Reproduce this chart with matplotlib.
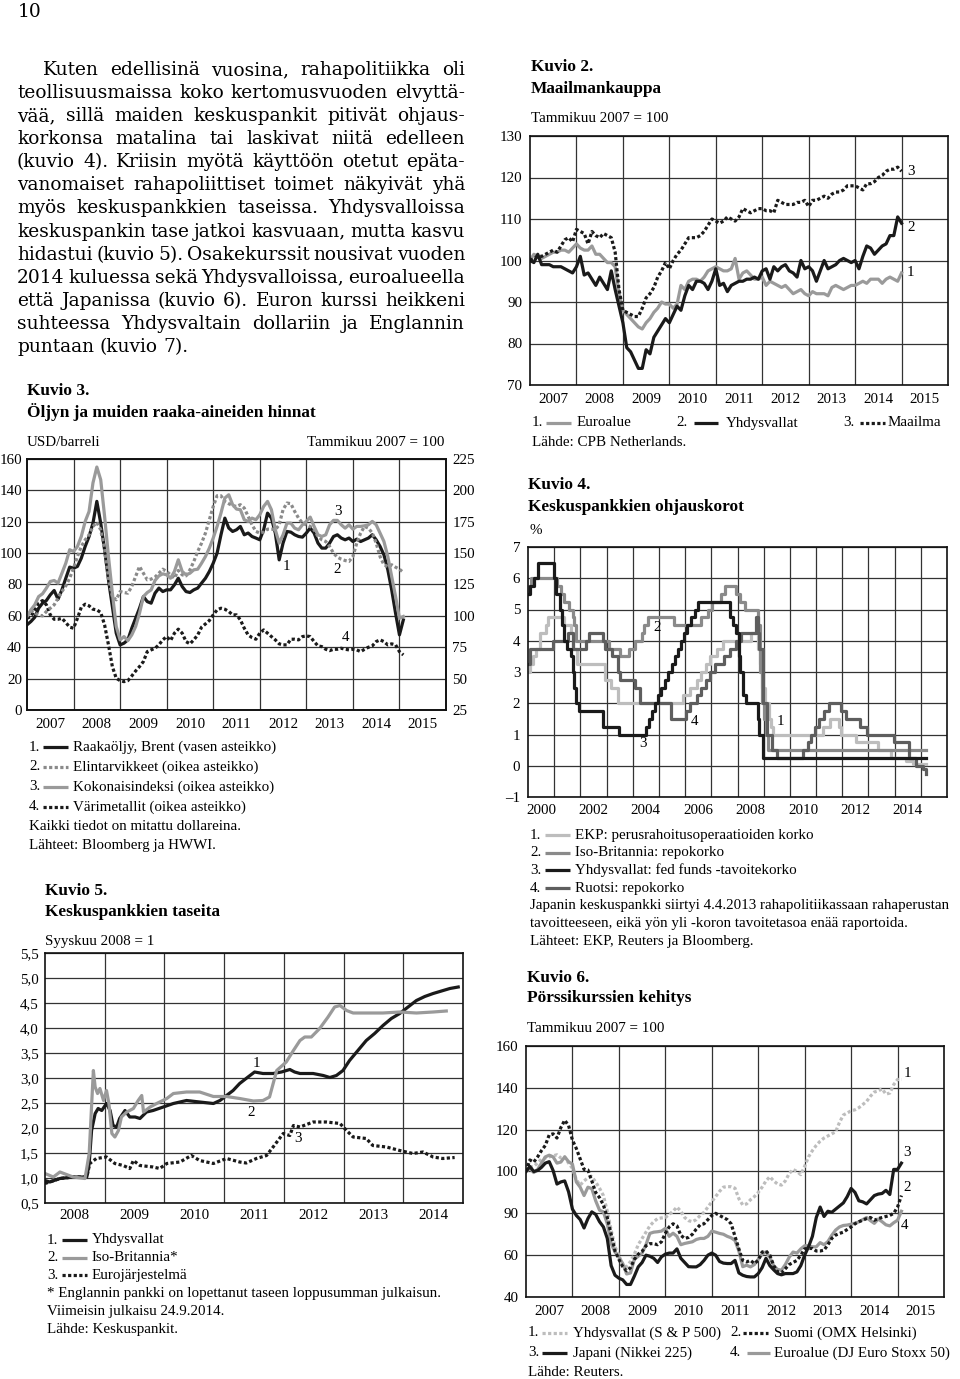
import numpy as np
import matplotlib
matplotlib.use("Agg")
import matplotlib.pyplot as plt
from matplotlib.lines import Line2D

plt.rcParams['font.family'] = ['Liberation Serif', 'DejaVu Serif']

W, H = 960, 1379
fig = plt.figure(figsize=(W / 100, H / 100), dpi=100)
fig.patch.set_facecolor('white')

def fx(x):
    return x / W

def fy(y):
    return 1 - y / H

def add_ax(l, t, r, b):
    return fig.add_axes([l / W, 1 - b / H, (r - l) / W, (b - t) / H])

# ---------------------------------------------------------------- DATA
para_lines = [
    "Kuten edellisinä vuosina, rahapolitiikka oli",
    "teollisuusmaissa koko kertomusvuoden elvyttä-",
    "vää, sillä maiden keskuspankit pitivät ohjaus-",
    "korkonsa matalina tai laskivat niitä edelleen",
    "(kuvio 4). Kriisin myötä käyttöön otetut epäta-",
    "vanomaiset rahapoliittiset toimet näkyivät yhä",
    "myös keskuspankkien taseissa. Yhdysvalloissa",
    "keskuspankin tase jatkoi kasvuaan, mutta kasvu",
    "hidastui (kuvio 5). Osakekurssit nousivat vuoden",
    "2014 kuluessa sekä Yhdysvalloissa, euroalueella",
    "että Japanissa (kuvio 6). Euron kurssi heikkeni",
    "suhteessa Yhdysvaltain dollariin ja Englannin",
    "puntaan (kuvio 7).",
]

# Kuvio 2 (monthly from Jan 2007)
k2_world = [100, 100.5, 101, 101, 101.5, 102, 102.5, 102, 103.5, 105, 105.5, 104.5,
            107.5, 107, 106.5, 104, 107, 106, 105.5, 106.5, 106, 105.5, 102, 93,
            88, 87.5, 87, 86.5, 86.5, 88.5, 91, 92, 93.5, 96, 97.5, 99.5,
            98, 100, 101.5, 102.5, 104, 105.5, 105.5, 105.5, 106, 107, 108.5, 110,
            109.5, 109, 109.5, 110.5, 110, 109.5, 110.5, 112.5, 112, 111.5, 112, 112.5,
            112.5, 112, 112, 111.5, 114.5, 114, 113.5, 113.5, 113.5, 114, 114, 114.5,
            113, 114.5, 114.5, 115, 115.5, 115, 116, 116.5, 116.5, 117, 118, 118,
            118, 117.5, 117, 118.5, 118.5, 119, 120, 120.5, 121.5, 122, 122, 122.5,
            121.5]
k2_us = [100, 99.5, 101.5, 99, 99, 99, 98.5, 98.5, 98.5, 98, 97.5, 97,
         98.5, 101, 96.5, 97, 95.5, 94, 96, 94.5, 93, 97.5, 93, 89,
         85, 79, 78, 76, 74, 74, 78.5, 77.5, 81.5, 83, 84.5, 86,
         85, 87, 89, 88, 91.5, 94, 93, 95, 95, 94.5, 93, 95,
         98, 94, 94.5, 92.5, 94, 94.5, 95, 95, 95.5, 95.5, 96, 95.5,
         97.5, 98, 95.5, 98.5, 97.5, 98.5, 99, 97.5, 97, 96, 100, 98,
         98.5, 97.5, 95, 97.5, 100, 98, 98.5, 99, 100, 100.5, 100, 99.5,
         100, 98, 101, 103.5, 103, 101.5, 102.5, 103.5, 104, 106, 106, 110.5,
         109]
k2_euro = [100, 101.5, 101, 100.5, 101, 101.5, 102, 102, 102.5, 102.5, 102, 103,
           104, 103, 102.5, 102.5, 103.5, 101.5, 101.5, 100.5, 99.5, 99.5, 98.5, 92,
           88, 87, 86, 85, 84, 83.5, 85, 86, 87.5, 88.5, 90, 89.5,
           89.5, 88.5, 89.5, 94, 93, 95, 95.5, 95.5, 95, 96, 97.5, 98,
           98.5, 98, 97.5, 97.5, 98, 100.5, 95.5, 97, 97.5, 96.5, 95.5, 95.5,
           96, 94, 95, 94.5, 94, 93.5, 94, 93, 92, 92.5, 93, 92,
           91.5, 92.5, 92, 92, 92, 91.5, 93.5, 94, 93.5, 93, 93.5, 94,
           94, 94.5, 95, 94.5, 95.5, 95.5, 95.5, 94.5, 95.5, 96, 95.5, 95,
           97]

# Kuvio 3 (monthly from Jan 2007)
k3_brent = [54.3, 56.4, 59.1, 64.9, 68.1, 69.8, 73.4, 76.2, 70.6, 76.6, 84, 91.1,
            90.4, 91.5, 96.8, 104.3, 110.6, 119.1, 133, 119.1, 102.1, 83, 66, 49,
            41.5, 42.6, 44.7, 52.1, 58.5, 64.9, 72.3, 69.1, 68.1, 74.5, 77.7, 75.5,
            76.6, 76.6, 79.8, 84, 78.7, 75.5, 74.9, 76.6, 77.7, 80.9, 84, 88.3,
            93.6, 100, 111.7, 122.3, 116, 113.8, 114.9, 117, 111.7, 112.8, 110.6, 109.6,
            108.5, 114.9, 125.5, 122.3, 112.8, 95.7, 106.4, 113.8, 113.4, 111.7, 110.6, 110.2,
            112.8, 116, 112.8, 106.4, 103.2, 103.2, 106.4, 110.6, 111.7, 109.6, 108.5, 109.6,
            107.4, 108.9, 107.4, 108.5, 109.6, 111.7, 108.5, 104.3, 98.9, 89.4, 76.6, 61.7,
            47.9, 57.4]
k3_food = [100.8, 104.3, 102.1, 100.8, 100, 103.5, 106.1, 108.8, 114.1, 119.4, 123.9, 130,
           138, 147.3, 155.3, 160.6, 164.6, 171.3, 174.5, 168.6, 152.7, 130, 115.4, 112.8,
           119.4, 118.6, 118.1, 123.4, 131.4, 139.4, 134, 128.7, 129.3, 130.9, 134, 137.2,
           135.4, 132.7, 130, 136.2, 132.7, 131.9, 136.7, 143.4, 151.3, 158, 166, 176.6,
           187.2, 195.7, 195.7, 191.2, 189.4, 187.8, 187.2, 188.6, 185.9, 179.3, 172.6, 167.3,
           166, 166.8, 169.1, 169.1, 168.6, 172.6, 184.6, 189.9, 189.4, 183.2, 177.9, 173.9,
           172.6, 171.3, 168.6, 163.3, 160.6, 159.3, 155.3, 150, 146.8, 145.2, 144.1, 143.4,
           147.3, 158, 166, 171.3, 169.9, 166, 158, 147.3, 140.7, 139.4, 140.7, 138.8,
           137.2, 134.6]
k3_total = [99.5, 104.8, 108.8, 115.4, 117.6, 122.1, 127.4, 128.2, 126.1, 134, 142, 152.7,
            151.3, 155.3, 163.3, 175.3, 183.2, 205.9, 218.6, 208.5, 179.3, 147.3, 118.1, 91.5,
            80.9, 83.5, 80.3, 84.8, 91.5, 102.1, 115.4, 118.6, 120.7, 128.2, 131.9, 133.5,
            132.7, 130, 135.4, 144.7, 135.4, 132.7, 134, 136.7, 137.2, 142, 147.3, 154,
            162, 171.3, 181.9, 193.9, 196.5, 188.6, 185.1, 184.6, 176.6, 175.3, 177.9, 176.6,
            180.6, 187.2, 191.2, 184.6, 168.6, 158, 164.6, 173.9, 173.9, 169.9, 168.6, 172.6,
            175.3, 178.7, 171.3, 164.6, 163.3, 164.6, 172.6, 176.1, 176.1, 172.6, 169.9, 172.6,
            169.1, 171.3, 171.3, 171.8, 172.6, 175.3, 172.6, 166, 159.3, 147.3, 131.4, 115.4,
            98.1, 99.5]
k3_metals = [98.1, 99.5, 104.8, 110.1, 112.2, 108.8, 100.8, 97.3, 97.3, 98.1, 94.7, 91,
             90.2, 98.1, 106.9, 109.3, 108, 105.3, 104.8, 102.7, 92.8, 76.9, 59.6, 50.3,
             48.4, 47.6, 48.4, 52.1, 56.1, 59.6, 63.6, 71.5, 72.9, 74.2, 76.9, 80.9,
             83.5, 80.3, 86.2, 89.4, 86.2, 79.5, 77.7, 80.9, 84.8, 91, 93.6, 96.3,
             100.8, 104.8, 106.1, 105.3, 103.5, 100.8, 100.8, 96.8, 90.2, 84.8, 82.7, 81.4,
             86.2, 88.8, 86.2, 83.5, 80.9, 77.7, 76.9, 76.9, 81.4, 81.4, 80.9, 83.5,
             84, 83.5, 79.5, 76.1, 75.5, 73.4, 72.3, 73.4, 73.4, 74.2, 73.4, 72.9,
             73.4, 72.9, 71.5, 73.4, 75, 76.1, 79.5, 80.9, 79.5, 76.9, 77.7, 76.9,
             71.5, 68.9]

# Kuvio 4 (step changes: decimal year, rate)
k4_ecb_t = [2000.0, 2000.09, 2000.21, 2000.32, 2000.44, 2000.68, 2000.76, 2001.36, 2001.66,
            2001.71, 2001.86, 2002.93, 2003.18, 2003.43, 2005.93, 2006.18, 2006.45, 2006.60,
            2006.78, 2006.95, 2007.20, 2007.45, 2008.52, 2008.79, 2008.87, 2008.94, 2009.05,
            2009.19, 2009.27, 2009.36, 2011.28, 2011.53, 2011.86, 2011.95, 2012.52, 2013.35,
            2013.87, 2014.44, 2014.69, 2015.2]
k4_ecb_v = [3.0, 3.25, 3.5, 3.75, 4.25, 4.5, 4.75, 4.5, 4.25,
            3.75, 3.25, 2.75, 2.5, 2.0, 2.25, 2.5, 2.75, 3.0,
            3.25, 3.5, 3.75, 4.0, 4.25, 3.75, 3.25, 2.5, 2.0,
            1.5, 1.25, 1.0, 1.25, 1.5, 1.25, 1.0, 0.75, 0.5,
            0.25, 0.15, 0.05, 0.05]
k4_uk_t = [2000.0, 2000.04, 2000.11, 2001.10, 2001.26, 2001.36, 2001.58, 2001.71, 2001.76,
           2001.85, 2003.10, 2003.52, 2003.85, 2004.10, 2004.35, 2004.44, 2004.59, 2005.59,
           2006.59, 2006.86, 2007.03, 2007.36, 2007.51, 2007.93, 2008.10, 2008.27, 2008.77,
           2008.85, 2008.93, 2009.02, 2009.10, 2009.17, 2015.2]
k4_uk_v = [5.5, 5.75, 6.0, 5.75, 5.5, 5.25, 5.0, 4.75, 4.5,
           4.0, 3.75, 3.5, 3.75, 4.0, 4.25, 4.5, 4.75, 4.5,
           4.75, 5.0, 5.25, 5.5, 5.75, 5.5, 5.25, 5.0, 4.5,
           3.0, 2.0, 1.5, 1.0, 0.5, 0.5]
k4_us_t = [2000.0, 2000.09, 2000.22, 2000.37, 2001.01, 2001.08, 2001.22, 2001.30, 2001.37,
           2001.49, 2001.64, 2001.71, 2001.75, 2001.85, 2001.94, 2002.85, 2003.48, 2004.49,
           2004.61, 2004.72, 2004.86, 2004.95, 2005.09, 2005.22, 2005.34, 2005.49, 2005.61,
           2005.72, 2005.83, 2005.95, 2006.08, 2006.24, 2006.36, 2006.49, 2007.71, 2007.83,
           2007.94, 2008.06, 2008.08, 2008.21, 2008.33, 2008.77, 2008.83, 2008.96, 2015.2]
k4_us_v = [5.5, 5.75, 6.0, 6.5, 6.0, 5.5, 5.0, 4.5, 4.0,
           3.75, 3.5, 3.0, 2.5, 2.0, 1.75, 1.25, 1.0, 1.25,
           1.5, 1.75, 2.0, 2.25, 2.5, 2.75, 3.0, 3.25, 3.5,
           3.75, 4.0, 4.25, 4.5, 4.75, 5.0, 5.25, 4.75, 4.5,
           4.25, 3.5, 3.0, 2.25, 2.0, 1.5, 1.0, 0.25, 0.25]
k4_se_t = [2000.0, 2000.09, 2000.94, 2001.53, 2001.71, 2002.22, 2002.32, 2002.87, 2002.94,
           2003.22, 2003.43, 2003.52, 2004.10, 2004.27, 2005.47, 2006.05, 2006.17, 2006.47,
           2006.62, 2006.80, 2006.96, 2007.13, 2007.48, 2007.71, 2007.96, 2008.13, 2008.71,
           2008.77, 2008.83, 2008.96, 2009.11, 2009.30, 2009.52, 2010.52, 2010.68, 2010.81,
           2010.96, 2011.12, 2011.30, 2011.51, 2011.96, 2012.13, 2012.68, 2012.96, 2013.96,
           2014.53, 2014.82, 2015.10, 2015.20]
k4_se_v = [3.25, 3.75, 4.0, 4.25, 3.75, 4.0, 4.25, 4.0, 3.75,
           3.5, 3.0, 2.75, 2.5, 2.0, 1.5, 1.75, 2.0, 2.25,
           2.5, 2.75, 3.0, 3.25, 3.5, 3.75, 4.0, 4.25, 4.75,
           4.25, 3.75, 2.0, 1.0, 0.5, 0.25, 0.5, 0.75, 1.0,
           1.25, 1.5, 1.75, 2.0, 1.75, 1.5, 1.25, 1.0, 0.75,
           0.25, 0.0, -0.1, -0.25]

# Kuvio 5 (decimal year, index)
k5_us_t = [2008.00, 2008.08, 2008.25, 2008.47, 2008.70, 2008.74, 2008.78, 2008.84, 2008.89, 2008.95,
           2009.03, 2009.09, 2009.14, 2009.20, 2009.25, 2009.34, 2009.42, 2009.51, 2009.59, 2009.70,
           2009.81, 2009.98, 2010.15, 2010.37, 2010.59, 2010.82, 2010.93, 2011.04, 2011.15, 2011.26,
           2011.40, 2011.51, 2011.65, 2011.82, 2011.96, 2012.10, 2012.18, 2012.27, 2012.49, 2012.66,
           2012.77, 2012.88, 2012.99, 2013.10, 2013.24, 2013.38, 2013.52, 2013.66, 2013.80, 2013.94,
           2014.08, 2014.22, 2014.36, 2014.50, 2014.64, 2014.78, 2014.92]
k5_us_v = [0.95, 0.92, 0.99, 1.02, 1.02, 1.29, 1.95, 2.29, 2.39, 2.35,
           2.49, 2.35, 2.05, 2.02, 2.19, 2.35, 2.22, 2.22, 2.19, 2.32,
           2.35, 2.42, 2.49, 2.55, 2.52, 2.49, 2.55, 2.65, 2.75, 2.89,
           3.02, 3.12, 3.09, 3.09, 3.12, 3.17, 3.12, 3.09, 3.09, 3.05,
           3.01, 3.05, 3.15, 3.35, 3.55, 3.75, 3.89, 4.05, 4.19, 4.29,
           4.42, 4.55, 4.63, 4.69, 4.74, 4.79, 4.82]
k5_uk_t = [2008.00, 2008.14, 2008.25, 2008.47, 2008.67, 2008.74, 2008.81, 2008.84, 2008.88, 2008.92,
           2008.98, 2009.03, 2009.07, 2009.12, 2009.17, 2009.23, 2009.28, 2009.37, 2009.48, 2009.56,
           2009.62, 2009.65, 2009.76, 2009.87, 2010.04, 2010.15, 2010.37, 2010.59, 2010.82, 2011.04,
           2011.26, 2011.49, 2011.65, 2011.76, 2011.88, 2012.04, 2012.16, 2012.27, 2012.35, 2012.46,
           2012.60, 2012.74, 2012.85, 2012.94, 2013.05, 2013.16, 2013.38, 2013.66, 2013.94, 2014.22,
           2014.50, 2014.72]
k5_uk_v = [1.09, 1.02, 1.12, 1.02, 0.99, 1.49, 3.15, 2.82, 2.69, 2.79,
           2.55, 2.75, 2.49, 1.89, 1.82, 1.95, 2.22, 2.32, 2.39, 2.55,
           2.65, 2.32, 2.42, 2.49, 2.59, 2.69, 2.72, 2.72, 2.63, 2.63,
           2.59, 2.54, 2.55, 2.62, 3.15, 3.32, 3.55, 3.75, 3.82, 3.82,
           3.99, 4.22, 4.42, 4.45, 4.35, 4.30, 4.30, 4.30, 4.32, 4.30,
           4.32, 4.34]
k5_eu_t = [2008.00, 2008.25, 2008.47, 2008.70, 2008.75, 2008.86, 2009.03, 2009.17, 2009.31, 2009.42,
           2009.48, 2009.59, 2009.81, 2009.92, 2010.04, 2010.26, 2010.45, 2010.59, 2010.82, 2011.04,
           2011.26, 2011.37, 2011.54, 2011.71, 2011.82, 2011.99, 2012.10, 2012.16, 2012.27, 2012.49,
           2012.71, 2012.94, 2013.05, 2013.16, 2013.38, 2013.49, 2013.72, 2013.94, 2014.16, 2014.33,
           2014.50, 2014.66, 2014.86]
k5_eu_v = [0.89, 0.99, 1.02, 1.02, 1.29, 1.39, 1.42, 1.29, 1.25, 1.19,
           1.35, 1.25, 1.22, 1.19, 1.29, 1.32, 1.45, 1.35, 1.29, 1.39,
           1.32, 1.30, 1.39, 1.45, 1.62, 1.89, 1.85, 2.05, 2.02, 2.12,
           2.12, 2.09, 1.95, 1.82, 1.79, 1.65, 1.62, 1.55, 1.49, 1.52,
           1.42, 1.39, 1.41]

# Kuvio 6 (monthly from Jan 2007)
k6_sp = [100, 102, 102.5, 104, 106, 106.5, 107, 107.5, 108, 106.5, 107, 104,
         101.5, 96, 93.5, 95.5, 97, 97.5, 95, 92, 88.5, 81, 72, 64,
         60, 55, 54.5, 57, 60.5, 65, 68, 71, 74, 76, 77.5, 77.8,
         78, 79.5, 81, 83, 81, 78, 76.5, 76, 77, 79, 80.5, 83,
         85.5, 88, 90.5, 92.5, 92.8, 92.7, 92, 87, 84, 84.5, 86.5, 88,
         90, 92.5, 95.5, 97.5, 95.5, 94, 93.5, 95.5, 99, 101, 100, 98.5,
         102.5, 107, 110, 112.5, 114.5, 116, 117, 118, 119, 123.5, 127, 128,
         129, 129.5, 130.5, 132, 133.5, 136, 138, 138.5, 139.5, 137, 137.5, 141.5,
         144, 144]
k6_omx = [100, 105.5, 104.5, 107, 110, 112.5, 117.5, 118, 116, 121, 124.5, 122,
          115, 111, 106, 101, 100.7, 95.5, 90, 87.5, 84, 78, 70, 62,
          58, 54.5, 52.5, 54, 58, 60.5, 61.8, 64.5, 65.5, 65.5, 65, 66.4,
          70.5, 73.5, 75, 74, 69.5, 68, 68.5, 70, 72.5, 74.5, 75, 77,
          79, 80, 79, 78, 77, 75, 69, 63, 57.5, 56.8, 57.5, 56,
          57.5, 61.5, 62, 60, 55, 52, 51.5, 53.5, 55.5, 56.5, 57.5, 60,
          63, 63.2, 63.2, 62, 62, 62.4, 65, 68, 69.6, 70.4, 71, 72.3,
          73.5, 75, 76, 76.7, 77.5, 78, 76.7, 77.5, 78, 78.5, 79, 80,
          83, 88.5]
k6_nikkei = [100, 102.4, 100, 100.5, 102, 104, 104.7, 100.5, 94, 95, 95.5, 90.3,
             82, 79, 77, 73, 77.5, 80.7, 79.5, 76, 73.5, 68, 55, 50.4,
             49, 48.2, 46, 46, 50, 54.4, 56.5, 60, 59.5, 58.5, 56.5, 59.2,
             60.5, 61, 61, 63, 58.5, 56.5, 54.5, 54.4, 54.4, 55.5, 57.5, 60,
             61, 60, 57, 56.2, 56, 56, 57.5, 51.5, 50.4, 49.8, 49.6, 49.6,
             51.2, 54, 58.5, 55, 53, 51.2, 50.6, 51.2, 51.2, 51.2, 52, 55,
             60, 64, 69, 78, 83, 78.5, 81, 80.5, 82, 83.5, 85, 88,
             91.9, 90, 86, 85.5, 84.5, 86.5, 88.5, 89.2, 89.5, 91, 89, 101,
             101, 104]
k6_stoxx = [100, 101.5, 99.5, 101, 104, 107, 107.8, 107, 104, 104.5, 107, 104.7,
            103.5, 95, 92.5, 88.5, 92.5, 91.8, 86, 81.5, 80.7, 75, 65.5, 61.5,
            59, 56, 51, 51.5, 58, 59.5, 61, 65, 70.4, 71, 71.2, 71.5,
            72.8, 69, 70.5, 69, 65, 65.6, 66, 66.4, 67.5, 68, 68, 69,
            71.5, 71, 70.4, 70, 69, 68.3, 67, 62, 54.5, 55.2, 54.4, 55.5,
            58, 60.5, 61.6, 59, 55, 53.2, 52.8, 55.5, 59, 61.5, 61, 63,
            64.5, 64.5, 64, 64, 66, 65, 66.5, 69.5, 72, 73.5, 74.2, 74.4,
            74.8, 75.3, 75.9, 77, 78, 76.5, 75.2, 77.3, 76, 74.5, 74, 75.5,
            76.7, 81]

k2_years = list(range(2007, 2016))
k3_years = list(range(2007, 2016))
k4_years = list(range(2000, 2015, 2))
k5_years = list(range(2008, 2015))
k6_years = list(range(2007, 2016))
k2_yticks = [70, 80, 90, 100, 110, 120, 130]
k3_left_ticks = [0, 20, 40, 60, 80, 100, 120, 140, 160]
k3_right_ticks = [25, 50, 75, 100, 125, 150, 175, 200, 225]
k4_yticks = [-1, 0, 1, 2, 3, 4, 5, 6, 7]
k4_ylabels = ['\u20131', '0', '1', '2', '3', '4', '5', '6', '7']
k5_yticks = [0.5, 1.0, 1.5, 2.0, 2.5, 3.0, 3.5, 4.0, 4.5, 5.0, 5.5]
k5_ylabels = ['0,5', '1,0', '1,5', '2,0', '2,5', '3,0', '3,5', '4,0', '4,5', '5,0', '5,5']
k6_yticks = [40, 60, 80, 100, 120, 140, 160]
k6_ylabels = ['40', '60', '90', '100', '120', '140', '160']

# ---------------------------------------------------------------- STYLE
BLACK = '#1a1a1a'
GRAY = '#9a9a9a'
LGRAY = '#bdbdbd'
MGRAY = '#8a8a8a'
DGRAY = '#5e5e5e'
LW = 2.3
DOT = (0, (1.0, 0.75))
TS = 10.8   # tick / legend size
TT = 12.4   # title size

def style_axes(ax, xlim, ylim, yticks, ylabels, xgrid, xlabpos, xlabels, ypad=5.5, xpad=6):
    ax.set_xlim(*xlim)
    ax.set_ylim(*ylim)
    ax.set_yticks(yticks)
    ax.set_yticklabels(ylabels, fontsize=TS)
    ax.set_xticks(xgrid, minor=True)
    ax.set_xticks(xlabpos)
    ax.set_xticklabels(xlabels, fontsize=TS)
    ax.set_xticklabels([], minor=True)
    ax.grid(which='minor', axis='x', color='#333333', lw=0.9)
    ax.grid(which='major', axis='y', color='#333333', lw=0.9)
    ax.grid(which='major', axis='x', visible=False)
    ax.tick_params(which='both', length=0)
    ax.tick_params(axis='y', pad=ypad)
    ax.tick_params(axis='x', pad=xpad)
    ax.set_axisbelow(True)
    for s in ax.spines.values():
        s.set_linewidth(1.2)
        s.set_color('#111111')

def ftext(x, y, s, size=TS, weight='normal', ha='left', va='center', family=None):
    kw = {}
    if family is not None:
        kw['family'] = family
    fig.text(fx(x), fy(y), s, fontsize=size, fontweight=weight, ha=ha, va=va, **kw)

def legline(x1, x2, y, color, ls='-', lw=LW):
    fig.add_artist(Line2D([fx(x1), fx(x2)], [fy(y), fy(y)], transform=fig.transFigure,
                          color=color, lw=lw, linestyle=ls, solid_capstyle='butt',
                          dash_capstyle='butt'))

# ---------------------------------------------------------------- PARAGRAPH
renderer = fig.canvas.get_renderer()
PFAM = 'DejaVu Serif'

def twidth(s, size):
    t = fig.text(0, 0, s, fontsize=size, family=PFAM)
    w = t.get_window_extent(renderer).width
    t.remove()
    return w

psize = 10 * 173 / twidth(para_lines[-1], 10)
space_w = twidth('a a', psize) - twidth('aa', psize)
for i, line in enumerate(para_lines):
    words = line.split(' ')
    widths = [twidth(w_, psize) for w_ in words]
    x0 = 43 if i == 0 else 17
    if i == len(para_lines) - 1:
        gap = space_w
    else:
        gap = max((465 - x0 - sum(widths)) / (len(words) - 1), 1.5)
    x = x0
    yb = 75 + 23.08 * i
    for w_, wd in zip(words, widths):
        fig.text(fx(x), fy(yb), w_, fontsize=psize, family=PFAM, ha='left', va='baseline')
        x += wd + gap

ftext(18, 12, "10", size=psize, family=PFAM)

# ---------------------------------------------------------------- KUVIO 2
ax2 = add_ax(530, 136, 948, 385)
t2 = 2007 + np.arange(len(k2_world)) / 12
ax2.plot(t2, k2_euro, color=GRAY, lw=LW)
ax2.plot(t2, k2_us, color=BLACK, lw=LW)
ax2.plot(t2, k2_world, color=BLACK, lw=LW, linestyle=DOT)
style_axes(ax2, (2007, 2016), (70, 130), k2_yticks, [str(v) for v in k2_yticks],
           list(range(2008, 2016)), [y + 0.5 for y in k2_years], [str(y) for y in k2_years])
for s, (xx, yy) in zip(['3', '2', '1'], [(2015.2, 121.5), (2015.2, 108), (2015.2, 97)]):
    ax2.text(xx, yy, s, fontsize=TS, ha='center', va='center')
ftext(531, 67, "Kuvio 2.", size=TT, weight='bold')
ftext(531, 89, "Maailmankauppa", size=TT, weight='bold')
ftext(531, 118, "Tammikuu 2007 = 100")
ftext(532, 423, "1.")
legline(546, 571, 423, GRAY)
ftext(577, 423, "Euroalue")
ftext(676, 423, "2.")
legline(694, 718, 423, BLACK)
ftext(726, 423, "Yhdysvallat")
ftext(843, 423, "3.")
legline(860, 885, 423, BLACK, ls=DOT)
ftext(888, 423, "Maailma")
ftext(532, 443, "Lähde: CPB Netherlands.")

# ---------------------------------------------------------------- KUVIO 3
ax3 = add_ax(27, 459, 446, 710)
t3 = 2007 + np.arange(len(k3_brent)) / 12
style_axes(ax3, (2007, 2016), (0, 160), k3_left_ticks, [str(v) for v in k3_left_ticks],
           list(range(2008, 2016)), [y + 0.5 for y in k3_years], [str(y) for y in k3_years],
           ypad=3.5)
ax3.plot(t3, k3_brent, color=BLACK, lw=LW)
ax3r = ax3.twinx()
ax3r.set_ylim(25, 225)
ax3r.set_yticks(k3_right_ticks)
ax3r.set_yticklabels([str(v) for v in k3_right_ticks], fontsize=TS)
ax3r.tick_params(length=0, pad=4.5)
for s in ax3r.spines.values():
    s.set_linewidth(1.2)
    s.set_color('#111111')
ax3r.plot(t3, k3_metals, color=BLACK, lw=LW, linestyle=DOT)
ax3r.plot(t3, k3_food, color=MGRAY, lw=LW, linestyle=DOT)
ax3r.plot(t3, k3_total, color=GRAY, lw=LW)
for s, (xx, yy) in zip(['1', '2', '3', '4'],
                       [(2012.57, 91.5), (2013.67, 89.8), (2013.67, 126.6), (2013.84, 46.4)]):
    ax3.text(xx, yy, s, fontsize=TS, ha='center', va='center', zorder=10)
ftext(27, 391, "Kuvio 3.", size=TT, weight='bold')
ftext(27, 412, "Öljyn ja muiden raaka-aineiden hinnat", size=TT, weight='bold')
ftext(27, 442, "USD/barreli")
ftext(444, 442, "Tammikuu 2007 = 100", ha='right')
leg3 = [("1.", BLACK, '-', "Raakaöljy, Brent (vasen asteikko)"),
        ("2.", MGRAY, DOT, "Elintarvikkeet (oikea asteikko)"),
        ("3.", GRAY, '-', "Kokonaisindeksi (oikea asteikko)"),
        ("4.", BLACK, DOT, "Värimetallit (oikea asteikko)")]
for i, (n, c, ls, lab) in enumerate(leg3):
    yy = 747 + 20 * i
    ftext(29, yy, n)
    legline(43, 68, yy, c, ls=ls)
    ftext(73, yy, lab)
ftext(29, 826, "Kaikki tiedot on mitattu dollareina.")
ftext(29, 846, "Lähteet: Bloomberg ja HWWI.")

# ---------------------------------------------------------------- KUVIO 4
ax4 = add_ax(528, 547, 947, 797)
ax4.step(k4_ecb_t, k4_ecb_v, where='post', color=LGRAY, lw=LW)
ax4.step(k4_uk_t, k4_uk_v, where='post', color=MGRAY, lw=LW)
ax4.step(k4_se_t, k4_se_v, where='post', color=DGRAY, lw=LW)
ax4.step(k4_us_t, k4_us_v, where='post', color=BLACK, lw=LW)
style_axes(ax4, (2000, 2016), (-1, 7), k4_yticks, k4_ylabels,
           list(range(2001, 2016)), [y + 0.5 for y in k4_years], [str(y) for y in k4_years],
           xpad=5)
for s, (xx, yy) in zip(['1', '2', '3', '4'],
                       [(2009.63, 1.41), (2004.93, 4.41), (2004.4, 0.72), (2006.35, 1.41)]):
    ax4.text(xx, yy, s, fontsize=TS, ha='center', va='center')
ftext(528, 485, "Kuvio 4.", size=TT, weight='bold')
ftext(528, 507, "Keskuspankkien ohjauskorot", size=TT, weight='bold')
ftext(530, 531, "%")
leg4 = [("1.", LGRAY, "EKP: perusrahoitusoperaatioiden korko"),
        ("2.", MGRAY, "Iso-Britannia: repokorko"),
        ("3.", BLACK, "Yhdysvallat: fed funds -tavoitekorko"),
        ("4.", DGRAY, "Ruotsi: repokorko")]
for i, (n, c, lab) in enumerate(leg4):
    yy = 835 + 17.7 * i
    ftext(530, yy, n)
    legline(545, 570, yy, c)
    ftext(575, yy, lab)
ftext(530, 906, "Japanin keskuspankki siirtyi 4.4.2013 rahapolitiikassaan rahaperustan")
ftext(530, 923, "tavoitteeseen, eikä yön yli -koron tavoitetasoa enää raportoida.")
ftext(530, 941, "Lähteet: EKP, Reuters ja Bloomberg.")

# ---------------------------------------------------------------- KUVIO 5
ax5 = add_ax(45, 953, 463, 1203)
ax5.plot(k5_eu_t, k5_eu_v, color=BLACK, lw=LW, linestyle=DOT)
ax5.plot(k5_us_t, k5_us_v, color=BLACK, lw=LW)
ax5.plot(k5_uk_t, k5_uk_v, color=GRAY, lw=LW)
style_axes(ax5, (2008, 2015), (0.5, 5.5), k5_yticks, k5_ylabels,
           list(range(2009, 2015)), [y + 0.5 for y in k5_years], [str(y) for y in k5_years],
           xpad=4.5, ypad=4.5)
for s, (xx, yy) in zip(['1', '2', '3'], [(2011.54, 3.29), (2011.46, 2.32), (2012.24, 1.79)]):
    ax5.text(xx, yy, s, fontsize=TS, ha='center', va='center')
ftext(45, 891, "Kuvio 5.", size=TT, weight='bold')
ftext(45, 912, "Keskuspankkien taseita", size=TT, weight='bold')
ftext(45, 942, "Syyskuu 2008 = 1")
leg5 = [("1.", BLACK, '-', "Yhdysvallat"),
        ("2.", GRAY, '-', "Iso-Britannia*"),
        ("3.", BLACK, DOT, "Eurojärjestelmä")]
for i, (n, c, ls, lab) in enumerate(leg5):
    yy = 1240 + 17.7 * i
    ftext(47, yy, n)
    legline(62, 87, yy, c, ls=ls)
    ftext(92, yy, lab)
ftext(47, 1293, "* Englannin pankki on lopettanut taseen loppusumman julkaisun.")
ftext(47, 1311, "Viimeisin julkaisu 24.9.2014.")
ftext(47, 1329, "Lähde: Keskuspankit.")

# ---------------------------------------------------------------- KUVIO 6
ax6 = add_ax(526, 1046, 944, 1297)
t6 = 2007 + np.arange(len(k6_sp)) / 12
ax6.plot(t6, k6_sp, color=LGRAY, lw=LW, linestyle=DOT)
ax6.plot(t6, k6_stoxx, color=GRAY, lw=LW)
ax6.plot(t6, k6_nikkei, color=BLACK, lw=LW)
ax6.plot(t6, k6_omx, color=BLACK, lw=LW, linestyle=DOT)
style_axes(ax6, (2007, 2016), (40, 160), k6_yticks, k6_ylabels,
           list(range(2008, 2016)), [y + 0.5 for y in k6_years], [str(y) for y in k6_years])
for s, (xx, yy) in zip(['1', '3', '2', '4'],
                       [(2015.21, 146.9), (2015.2, 109.1), (2015.2, 92.2), (2015.15, 74.4)]):
    ax6.text(xx, yy, s, fontsize=TS, ha='center', va='center')
ftext(527, 978, "Kuvio 6.", size=TT, weight='bold')
ftext(527, 998, "Pörssikurssien kehitys", size=TT, weight='bold')
ftext(527, 1028, "Tammikuu 2007 = 100")
ftext(528, 1333, "1.")
legline(542, 567, 1333, LGRAY, ls=DOT)
ftext(573, 1333, "Yhdysvallat (S & P 500)")
ftext(730, 1333, "2.")
legline(743, 768, 1333, BLACK, ls=DOT)
ftext(774, 1333, "Suomi (OMX Helsinki)")
ftext(528, 1353, "3.")
legline(542, 567, 1353, BLACK)
ftext(573, 1353, "Japani (Nikkei 225)")
ftext(730, 1353, "4.")
legline(747, 770, 1353, GRAY)
ftext(774, 1353, "Euroalue (DJ Euro Stoxx 50)")
ftext(528, 1372, "Lähde: Reuters.")

fig.savefig("out.png", dpi=100, facecolor='white')
